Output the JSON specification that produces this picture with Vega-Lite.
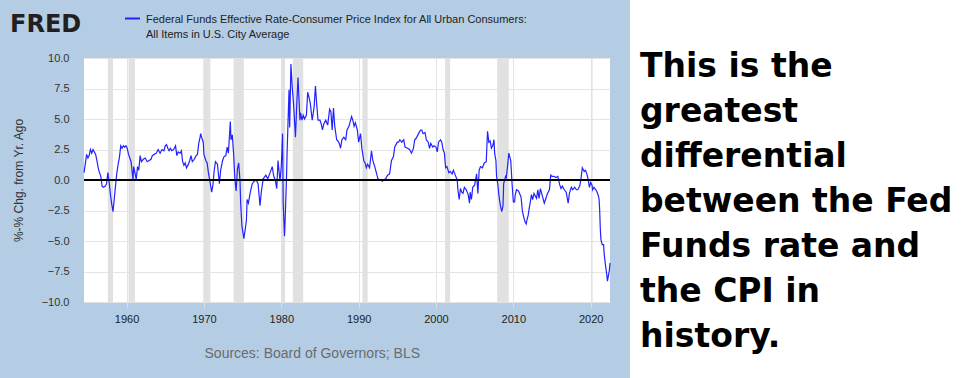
{
  "$schema": "https://vega.github.io/schema/vega-lite/v6.json",
  "background": "#b4cde4",
  "padding": 0,
  "spacing": 17,
  "config": {"view": {"stroke": null, "fill": "white"}},
  "hconcat": [
    {
      "width": 526,
      "height": 244,
      "title": {"text": "Sources: Board of Governors; BLS", "orient": "bottom", "anchor": "middle", "frame": "bounds", "font": "Liberation Sans", "fontSize": 14, "fontWeight": "normal", "color": "#6b6b6b", "offset": 23},
      "layer": [
        {
          "data": {"values": [
            {"start": "1957-08-01", "end": "1958-04-01"},
            {"start": "1960-04-01", "end": "1961-02-01"},
            {"start": "1969-12-01", "end": "1970-11-01"},
            {"start": "1973-11-01", "end": "1975-03-01"},
            {"start": "1980-01-01", "end": "1980-07-01"},
            {"start": "1981-07-01", "end": "1982-11-01"},
            {"start": "1990-07-01", "end": "1991-03-01"},
            {"start": "2001-03-01", "end": "2001-11-01"},
            {"start": "2007-12-01", "end": "2009-06-01"},
            {"start": "2020-02-01", "end": "2020-04-01"}
          ]},
          "mark": {"type": "rect", "color": "#e1e1e1"},
          "encoding": {
            "x": {"field": "start", "type": "temporal",
              "scale": {"domain": [{"year": 1954, "month": 7, "date": 1}, {"year": 2022, "month": 7, "date": 1}], "nice": false},
              "axis": {"title": null, "values": [{"year": 1960}, {"year": 1970}, {"year": 1980}, {"year": 1990}, {"year": 2000}, {"year": 2010}, {"year": 2020}], "format": "%Y", "labelFont": "Liberation Sans", "labelFontSize": 11, "labelColor": "#222222", "domain": false, "ticks": true, "tickColor": "#dddddd", "tickSize": 6, "labelPadding": 5, "grid": true, "gridColor": "#e4e4e4"}},
            "x2": {"field": "end"}
          }
        },
        {
          "data": {"values": [
            {"date": "1954-07", "v": 0.6}, {"date": "1954-09", "v": 1.3}, {"date": "1954-11", "v": 2.1}, {"date": "1955-01", "v": 1.8}, {"date": "1955-03", "v": 2.0}, {"date": "1955-05", "v": 2.5}, {"date": "1955-07", "v": 2.2}, {"date": "1955-09", "v": 2.5}, {"date": "1955-11", "v": 2.3},
            {"date": "1956-01", "v": 2.1}, {"date": "1956-03", "v": 1.6}, {"date": "1956-05", "v": 1.0}, {"date": "1956-07", "v": 0.6}, {"date": "1956-09", "v": 0.3}, {"date": "1956-11", "v": -0.5},
            {"date": "1957-01", "v": -0.6}, {"date": "1957-04", "v": -0.5}, {"date": "1957-06", "v": -0.3}, {"date": "1957-08", "v": 0.6}, {"date": "1957-10", "v": -0.2}, {"date": "1957-12", "v": -1.2},
            {"date": "1958-02", "v": -2.0}, {"date": "1958-04", "v": -2.6}, {"date": "1958-06", "v": -1.5}, {"date": "1958-08", "v": -0.4}, {"date": "1958-10", "v": 0.6}, {"date": "1958-12", "v": 1.3},
            {"date": "1959-02", "v": 1.9}, {"date": "1959-04", "v": 2.8}, {"date": "1959-06", "v": 2.6}, {"date": "1959-08", "v": 2.8}, {"date": "1959-10", "v": 2.7}, {"date": "1959-12", "v": 2.8},
            {"date": "1960-02", "v": 2.6}, {"date": "1960-04", "v": 2.1}, {"date": "1960-06", "v": 1.8}, {"date": "1960-08", "v": 1.5}, {"date": "1960-09", "v": 1.0}, {"date": "1960-11", "v": 0.0}, {"date": "1960-12", "v": 1.1},
            {"date": "1961-02", "v": 0.6}, {"date": "1961-04", "v": 0.05}, {"date": "1961-06", "v": 1.1}, {"date": "1961-08", "v": 0.8}, {"date": "1961-10", "v": 2.0}, {"date": "1961-12", "v": 1.5},
            {"date": "1962-03", "v": 1.7}, {"date": "1962-06", "v": 1.8}, {"date": "1962-09", "v": 1.5}, {"date": "1962-12", "v": 1.6},
            {"date": "1963-03", "v": 1.7}, {"date": "1963-05", "v": 2.0}, {"date": "1963-08", "v": 2.1}, {"date": "1963-11", "v": 2.2},
            {"date": "1964-02", "v": 2.5}, {"date": "1964-05", "v": 2.2}, {"date": "1964-08", "v": 2.5}, {"date": "1964-11", "v": 2.4},
            {"date": "1965-01", "v": 2.8}, {"date": "1965-03", "v": 2.9}, {"date": "1965-05", "v": 2.6}, {"date": "1965-07", "v": 2.4}, {"date": "1965-09", "v": 2.6}, {"date": "1965-11", "v": 2.4},
            {"date": "1966-02", "v": 2.5}, {"date": "1966-05", "v": 2.8}, {"date": "1966-07", "v": 2.0}, {"date": "1966-09", "v": 2.3}, {"date": "1966-12", "v": 2.2},
            {"date": "1967-02", "v": 2.4}, {"date": "1967-04", "v": 1.5}, {"date": "1967-06", "v": 1.2}, {"date": "1967-08", "v": 1.4}, {"date": "1967-10", "v": 1.0},
            {"date": "1968-01", "v": 1.3}, {"date": "1968-03", "v": 1.6}, {"date": "1968-05", "v": 2.0}, {"date": "1968-07", "v": 1.5}, {"date": "1968-10", "v": 1.7},
            {"date": "1969-01", "v": 2.0}, {"date": "1969-03", "v": 2.1}, {"date": "1969-05", "v": 3.0}, {"date": "1969-07", "v": 3.5}, {"date": "1969-08", "v": 3.8}, {"date": "1969-10", "v": 3.4}, {"date": "1969-12", "v": 3.1},
            {"date": "1970-01", "v": 2.1}, {"date": "1970-04", "v": 1.6}, {"date": "1970-06", "v": 1.4}, {"date": "1970-08", "v": 0.6}, {"date": "1970-10", "v": 0.0},
            {"date": "1971-01", "v": -1.0}, {"date": "1971-03", "v": -0.4}, {"date": "1971-05", "v": 0.8}, {"date": "1971-07", "v": 1.5}, {"date": "1971-10", "v": 1.3},
            {"date": "1972-01", "v": -0.3}, {"date": "1972-03", "v": 0.8}, {"date": "1972-06", "v": 1.6}, {"date": "1972-08", "v": 1.9}, {"date": "1972-11", "v": 2.0},
            {"date": "1973-01", "v": 2.7}, {"date": "1973-03", "v": 2.2}, {"date": "1973-06", "v": 4.8}, {"date": "1973-07", "v": 3.3}, {"date": "1973-09", "v": 3.7}, {"date": "1973-11", "v": 2.2},
            {"date": "1974-01", "v": 0.1}, {"date": "1974-03", "v": -0.9}, {"date": "1974-05", "v": 0.9}, {"date": "1974-07", "v": 1.4}, {"date": "1974-09", "v": -0.1}, {"date": "1974-10", "v": -1.9}, {"date": "1974-12", "v": -3.8},
            {"date": "1975-03", "v": -4.8}, {"date": "1975-05", "v": -4.1}, {"date": "1975-07", "v": -3.3}, {"date": "1975-08", "v": -1.6}, {"date": "1975-10", "v": -1.9},
            {"date": "1976-01", "v": -1.0}, {"date": "1976-04", "v": -0.3}, {"date": "1976-07", "v": -0.1}, {"date": "1976-10", "v": 0.0},
            {"date": "1977-01", "v": -0.3}, {"date": "1977-04", "v": -2.1}, {"date": "1977-06", "v": -1.0}, {"date": "1977-09", "v": 0.1},
            {"date": "1978-01", "v": 0.4}, {"date": "1978-04", "v": 0.1}, {"date": "1978-07", "v": 0.5}, {"date": "1978-11", "v": 1.1},
            {"date": "1979-01", "v": 0.4}, {"date": "1979-04", "v": -0.1}, {"date": "1979-06", "v": -0.7}, {"date": "1979-08", "v": 1.6}, {"date": "1979-11", "v": -0.1},
            {"date": "1980-01", "v": 1.1}, {"date": "1980-02", "v": 2.4}, {"date": "1980-03", "v": 3.8}, {"date": "1980-04", "v": -1.9}, {"date": "1980-06", "v": -4.6}, {"date": "1980-07", "v": -3.3}, {"date": "1980-09", "v": 0.0}, {"date": "1980-10", "v": 2.2},
            {"date": "1981-01", "v": 7.4}, {"date": "1981-02", "v": 4.3}, {"date": "1981-04", "v": 9.5}, {"date": "1981-06", "v": 7.6}, {"date": "1981-08", "v": 6.3}, {"date": "1981-11", "v": 3.5},
            {"date": "1982-01", "v": 6.2}, {"date": "1982-03", "v": 8.4}, {"date": "1982-04", "v": 7.2}, {"date": "1982-06", "v": 4.9}, {"date": "1982-07", "v": 5.5}, {"date": "1982-09", "v": 4.9}, {"date": "1982-11", "v": 5.3},
            {"date": "1983-01", "v": 5.0}, {"date": "1983-04", "v": 5.3}, {"date": "1983-06", "v": 7.2}, {"date": "1983-08", "v": 6.8}, {"date": "1983-10", "v": 6.3},
            {"date": "1984-01", "v": 4.9}, {"date": "1984-04", "v": 6.0}, {"date": "1984-06", "v": 7.7}, {"date": "1984-08", "v": 6.2}, {"date": "1984-10", "v": 4.9},
            {"date": "1985-01", "v": 4.9}, {"date": "1985-03", "v": 4.6}, {"date": "1985-05", "v": 4.1}, {"date": "1985-07", "v": 4.6}, {"date": "1985-10", "v": 4.9},
            {"date": "1986-01", "v": 4.5}, {"date": "1986-04", "v": 5.8}, {"date": "1986-06", "v": 5.6}, {"date": "1986-08", "v": 4.1}, {"date": "1986-10", "v": 5.9}, {"date": "1986-12", "v": 4.4},
            {"date": "1987-03", "v": 3.3}, {"date": "1987-05", "v": 3.2}, {"date": "1987-07", "v": 3.0}, {"date": "1987-09", "v": 2.6}, {"date": "1987-11", "v": 3.3},
            {"date": "1988-02", "v": 3.5}, {"date": "1988-05", "v": 3.3}, {"date": "1988-07", "v": 4.1}, {"date": "1988-10", "v": 4.4},
            {"date": "1989-02", "v": 5.2}, {"date": "1989-04", "v": 4.9}, {"date": "1989-06", "v": 4.4}, {"date": "1989-08", "v": 4.7}, {"date": "1989-11", "v": 4.1},
            {"date": "1990-01", "v": 3.1}, {"date": "1990-04", "v": 3.8}, {"date": "1990-06", "v": 2.6}, {"date": "1990-09", "v": 1.6}, {"date": "1990-11", "v": 1.4},
            {"date": "1991-01", "v": 1.0}, {"date": "1991-03", "v": 1.3}, {"date": "1991-06", "v": 1.0}, {"date": "1991-09", "v": 2.4}, {"date": "1991-11", "v": 1.6},
            {"date": "1992-02", "v": 1.1}, {"date": "1992-05", "v": 0.5}, {"date": "1992-07", "v": 0.1}, {"date": "1992-11", "v": 0.0},
            {"date": "1993-02", "v": -0.1}, {"date": "1993-04", "v": 0.0}, {"date": "1993-07", "v": 0.1}, {"date": "1993-10", "v": 0.4},
            {"date": "1994-01", "v": 0.5}, {"date": "1994-04", "v": 1.6}, {"date": "1994-07", "v": 1.9}, {"date": "1994-09", "v": 2.7},
            {"date": "1995-01", "v": 3.1}, {"date": "1995-03", "v": 3.1}, {"date": "1995-05", "v": 3.3}, {"date": "1995-08", "v": 3.1}, {"date": "1995-11", "v": 3.3},
            {"date": "1996-01", "v": 2.7}, {"date": "1996-05", "v": 2.6}, {"date": "1996-08", "v": 2.5}, {"date": "1996-11", "v": 2.2},
            {"date": "1997-02", "v": 2.6}, {"date": "1997-04", "v": 3.3}, {"date": "1997-06", "v": 3.4}, {"date": "1997-10", "v": 3.8},
            {"date": "1998-01", "v": 4.1}, {"date": "1998-03", "v": 4.1}, {"date": "1998-05", "v": 3.8}, {"date": "1998-08", "v": 3.9}, {"date": "1998-10", "v": 3.3},
            {"date": "1999-01", "v": 3.1}, {"date": "1999-03", "v": 2.6}, {"date": "1999-05", "v": 3.0}, {"date": "1999-08", "v": 2.7}, {"date": "1999-10", "v": 2.8},
            {"date": "2000-01", "v": 2.7}, {"date": "2000-03", "v": 2.3}, {"date": "2000-05", "v": 3.1}, {"date": "2000-08", "v": 3.3}, {"date": "2000-10", "v": 3.1}, {"date": "2000-12", "v": 2.5},
            {"date": "2001-02", "v": 2.2}, {"date": "2001-03", "v": 1.6}, {"date": "2001-04", "v": 1.0}, {"date": "2001-06", "v": 1.1}, {"date": "2001-09", "v": 0.6}, {"date": "2001-11", "v": 0.7},
            {"date": "2002-02", "v": 0.5}, {"date": "2002-04", "v": 0.8}, {"date": "2002-07", "v": 0.4}, {"date": "2002-10", "v": 0.0}, {"date": "2002-11", "v": -0.8},
            {"date": "2003-01", "v": -1.6}, {"date": "2003-03", "v": -0.7}, {"date": "2003-05", "v": -1.0}, {"date": "2003-07", "v": -1.1}, {"date": "2003-09", "v": -0.6}, {"date": "2003-12", "v": -0.8},
            {"date": "2004-03", "v": -1.2}, {"date": "2004-05", "v": -1.9}, {"date": "2004-06", "v": -1.0}, {"date": "2004-08", "v": -1.6}, {"date": "2004-10", "v": -0.6},
            {"date": "2005-01", "v": -0.4}, {"date": "2005-04", "v": 0.5}, {"date": "2005-06", "v": -1.1}, {"date": "2005-08", "v": 0.8}, {"date": "2005-10", "v": 1.1},
            {"date": "2006-01", "v": 1.0}, {"date": "2006-04", "v": 1.4}, {"date": "2006-07", "v": 1.5}, {"date": "2006-09", "v": 4.0}, {"date": "2006-11", "v": 3.1},
            {"date": "2007-01", "v": 3.2}, {"date": "2007-03", "v": 2.6}, {"date": "2007-05", "v": 2.8}, {"date": "2007-07", "v": 3.3}, {"date": "2007-08", "v": 2.2}, {"date": "2007-10", "v": 1.6}, {"date": "2007-11", "v": 0.3},
            {"date": "2008-01", "v": -0.4}, {"date": "2008-03", "v": -1.4}, {"date": "2008-05", "v": -2.1}, {"date": "2008-07", "v": -2.6}, {"date": "2008-09", "v": -2.1}, {"date": "2008-10", "v": -0.3},
            {"date": "2009-01", "v": 0.3}, {"date": "2009-02", "v": 0.2}, {"date": "2009-04", "v": 1.1}, {"date": "2009-06", "v": 2.2}, {"date": "2009-09", "v": 1.6}, {"date": "2009-11", "v": -0.3},
            {"date": "2010-01", "v": -1.8}, {"date": "2010-03", "v": -1.8}, {"date": "2010-04", "v": -1.2}, {"date": "2010-06", "v": -0.8}, {"date": "2010-09", "v": -0.9},
            {"date": "2011-01", "v": -1.4}, {"date": "2011-03", "v": -2.5}, {"date": "2011-05", "v": -3.0}, {"date": "2011-07", "v": -3.4}, {"date": "2011-09", "v": -3.6}, {"date": "2011-10", "v": -3.3}, {"date": "2011-12", "v": -2.9},
            {"date": "2012-02", "v": -2.2}, {"date": "2012-04", "v": -1.6}, {"date": "2012-05", "v": -1.2}, {"date": "2012-07", "v": -1.6}, {"date": "2012-09", "v": -1.1},
            {"date": "2013-01", "v": -1.5}, {"date": "2013-03", "v": -0.8}, {"date": "2013-05", "v": -1.5}, {"date": "2013-07", "v": -0.7}, {"date": "2013-10", "v": -1.3},
            {"date": "2014-01", "v": -1.9}, {"date": "2014-03", "v": -1.6}, {"date": "2014-06", "v": -1.1}, {"date": "2014-09", "v": -0.8}, {"date": "2014-11", "v": 0.4},
            {"date": "2015-01", "v": 0.3}, {"date": "2015-04", "v": 0.3}, {"date": "2015-07", "v": 0.2}, {"date": "2015-10", "v": 0.3},
            {"date": "2016-01", "v": -0.4}, {"date": "2016-03", "v": -0.7}, {"date": "2016-05", "v": -0.5}, {"date": "2016-08", "v": -0.8}, {"date": "2016-11", "v": -1.0},
            {"date": "2017-02", "v": -1.9}, {"date": "2017-04", "v": -1.1}, {"date": "2017-07", "v": -0.6}, {"date": "2017-09", "v": -0.8}, {"date": "2017-12", "v": -0.6},
            {"date": "2018-03", "v": -0.8}, {"date": "2018-05", "v": -0.8}, {"date": "2018-08", "v": -0.5}, {"date": "2018-10", "v": 0.1}, {"date": "2018-12", "v": 1.0},
            {"date": "2019-03", "v": 0.7}, {"date": "2019-05", "v": 0.8}, {"date": "2019-07", "v": 0.5}, {"date": "2019-09", "v": 0.1}, {"date": "2019-11", "v": -0.6},
            {"date": "2020-01", "v": -0.2}, {"date": "2020-03", "v": -0.4}, {"date": "2020-04", "v": -0.8}, {"date": "2020-06", "v": -0.6}, {"date": "2020-09", "v": -0.8}, {"date": "2020-11", "v": -1.0},
            {"date": "2021-01", "v": -1.3}, {"date": "2021-02", "v": -1.6}, {"date": "2021-03", "v": -2.5}, {"date": "2021-04", "v": -4.1}, {"date": "2021-05", "v": -4.9}, {"date": "2021-07", "v": -5.3}, {"date": "2021-09", "v": -5.3}, {"date": "2021-10", "v": -6.1}, {"date": "2021-12", "v": -7.0},
            {"date": "2022-01", "v": -7.4}, {"date": "2022-02", "v": -7.8}, {"date": "2022-03", "v": -8.3}, {"date": "2022-04", "v": -8.0}, {"date": "2022-05", "v": -7.7}, {"date": "2022-06", "v": -7.4}, {"date": "2022-07", "v": -6.8}
          ]},
          "transform": [{"calculate": "'FEDFUNDS-CPI'", "as": "series"}],
          "mark": {"type": "line", "strokeWidth": 1.2},
          "encoding": {
            "x": {"field": "date", "type": "temporal"},
            "y": {"field": "v", "type": "quantitative",
              "scale": {"domain": [-10, 10], "nice": false},
              "axis": {"title": "%-% Chg. from Yr. Ago", "values": [-10, -7.5, -5, -2.5, 0, 2.5, 5, 7.5, 10], "format": ".1f", "labelOverlap": false, "labelFont": "Liberation Sans", "labelFontSize": 11, "labelColor": "#333333", "titleFont": "Liberation Sans", "titleFontSize": 12, "titleFontWeight": "normal", "titleColor": "#333333", "titlePadding": 16, "domain": false, "ticks": false, "tickSize": 0, "labelPadding": 15, "grid": true, "gridColor": "#e4e4e4"}},
            "color": {"field": "series", "type": "nominal",
              "scale": {"range": ["#2222ff"]},
              "legend": {
                "orient": "none", "legendX": -84, "legendY": -58, "padding": 10,
                "title": "FRED", "titleOrient": "left", "titleFont": "DejaVu Sans", "titleFontWeight": "bold", "titleFontSize": 24, "titleColor": "#231f20", "titlePadding": 42,
                "symbolType": "stroke", "symbolSize": 225, "symbolStrokeWidth": 2,
                "labelExpr": "['Federal Funds Effective Rate-Consumer Price Index for All Urban Consumers:', 'All Items in U.S. City Average']",
                "labelFont": "Liberation Sans", "labelFontSize": 11, "labelColor": "#222222", "labelLimit": 1000, "labelOffset": 5, "labelBaseline": "middle",
                "encode": {"labels": {"update": {"lineHeight": {"value": 14.5}, "dy": {"value": 1.5}}}}
              }}
          }
        },
        {
          "data": {"values": [{}]},
          "mark": {"type": "rule", "color": "black", "strokeWidth": 2},
          "encoding": {"y": {"datum": 0, "type": "quantitative",
            "axis": {"title": "%-% Chg. from Yr. Ago", "values": [-10, -7.5, -5, -2.5, 0, 2.5, 5, 7.5, 10], "format": ".1f", "labelOverlap": false, "labelFont": "Liberation Sans", "labelFontSize": 11, "labelColor": "#333333", "titleFont": "Liberation Sans", "titleFontSize": 12, "titleFontWeight": "normal", "titleColor": "#333333", "titlePadding": 16, "domain": false, "ticks": false, "tickSize": 0, "labelPadding": 15, "grid": true, "gridColor": "#e4e4e4"}}}
        }
      ]
    },
    {
      "width": 342,
      "height": 320,
      "view": {"fill": "white", "stroke": null},
      "layer": [
        {
          "data": {"values": [{}]},
          "mark": {"type": "rect", "color": "white"},
          "encoding": {
            "y": {"datum": 0, "type": "quantitative", "scale": {"domain": [0, 1], "range": [-58, 320]}, "axis": null},
            "y2": {"datum": 1}
          }
        },
        {
          "data": {"values": [
            {"line": 1, "text": "This is the"},
            {"line": 2, "text": "greatest"},
            {"line": 3, "text": "differential"},
            {"line": 4, "text": "between the Fed"},
            {"line": 5, "text": "Funds rate and"},
            {"line": 6, "text": "the CPI in"},
            {"line": 7, "text": "history."}
          ]},
          "mark": {"type": "text", "align": "left", "baseline": "alphabetic", "font": "DejaVu Sans", "fontWeight": "bold", "fontSize": 33, "color": "black", "dx": 10, "dy": -6},
          "encoding": {
            "x": {"datum": 0, "type": "quantitative", "scale": {"domain": [0, 1]}, "axis": null},
            "y": {"field": "line", "type": "ordinal", "scale": {"type": "point", "padding": 0.5556}, "axis": null},
            "text": {"field": "text"}
          }
        }
      ],
      "resolve": {"scale": {"y": "independent"}}
    }
  ]
}
